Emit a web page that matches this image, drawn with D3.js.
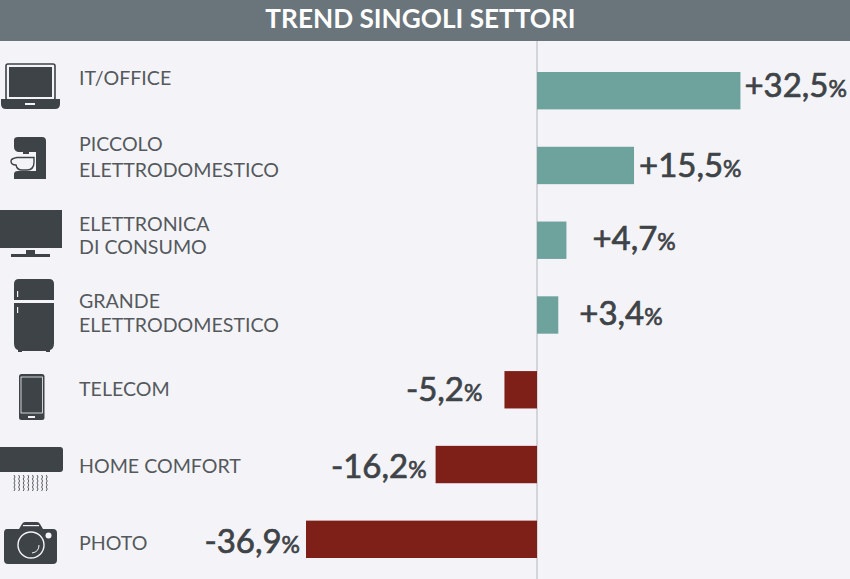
<!DOCTYPE html>
<html><head><meta charset="utf-8">
<script src="https://cdnjs.cloudflare.com/ajax/libs/d3/7.8.5/d3.min.js"></script>
<style>html,body{margin:0;padding:0;background:#f4f4f8;overflow:hidden}svg{display:block}text{font-family:Lato,sans-serif}</style>
</head><body><svg id="c" width="850" height="579"></svg>
<script>
const title = "TREND SINGOLI SETTORI";
const categories = ["IT/OFFICE","PICCOLO ELETTRODOMESTICO","ELETTRONICA DI CONSUMO","GRANDE ELETTRODOMESTICO","TELECOM","HOME COMFORT","PHOTO"];
const labelLines = [["IT/OFFICE"],["PICCOLO","ELETTRODOMESTICO"],["ELETTRONICA","DI CONSUMO"],["GRANDE","ELETTRODOMESTICO"],["TELECOM"],["HOME COMFORT"],["PHOTO"]];
const values = [32.5,15.5,4.7,3.4,-5.2,-16.2,-36.9];
const valueLabels = ["+32,5","+15,5","+4,7","+3,4","-5,2","-16,2","-36,9"];
const iconNames = ["laptop","mixer","tv","fridge","phone","ac","camera"];

const W=850,H=579,dark="#3e4347",txt="#55595d",bg="#f4f4f8";
const svg=d3.select("#c");
svg.append("rect").attr("width",W).attr("height",H).attr("fill",bg);
svg.append("rect").attr("width",W).attr("height",41).attr("fill","#69747b");
svg.append("text").attr("x",420.5).attr("y",28).attr("text-anchor","middle").attr("fill","#fff")
  .attr("font-size",26.2).attr("font-weight",700).text(title);

const x=d3.scaleLinear().domain([-40,40]).range([286.6,787.4]);
const y=d3.scaleBand().domain(categories).range([72,558]).paddingInner(0.5);
svg.append("line").attr("x1",x(0)).attr("x2",x(0)).attr("y1",41).attr("y2",H).attr("stroke","#c9cbd0").attr("stroke-width",1.5);

svg.selectAll("rect.bar").data(values).join("rect").attr("class","bar")
  .attr("x",d=>x(Math.min(0,d))).attr("width",d=>Math.abs(x(d)-x(0)))
  .attr("y",(d,i)=>y(categories[i])).attr("height",y.bandwidth())
  .attr("fill",d=>d>0?"#6ea29d":"#7f2018");

// placement of the value labels relative to their bars, as in the reference
const labelGap=[4,5,26,21,22,9,6];
const labelDy=[6.6,11.8,10,9.8,11.5,13.7,13.9];
const vals=svg.selectAll("text.val").data(values).join("text").attr("class","val")
  .attr("x",(d,i)=>d>0?x(d)+labelGap[i]:x(d)-labelGap[i])
  .attr("y",(d,i)=>y(categories[i])+y.bandwidth()/2+labelDy[i])
  .attr("text-anchor",d=>d>0?"start":"end")
  .attr("fill",dark).attr("stroke",dark).attr("stroke-width",0.7).attr("font-size",33);
vals.append("tspan").text((d,i)=>valueLabels[i]);
vals.append("tspan").attr("font-size",23).text("%");

// baselines of the category text relative to each row's centre
const textDy=[[-5.4],[-14.5,12],[-9.5,14],[-7.5,17],[6.5],[8.5],[10.5]];
categories.forEach((c,i)=>{
  const cy=y(c)+y.bandwidth()/2;
  const t=svg.append("text").attr("fill",txt).attr("font-size",19.6);
  labelLines[i].forEach((l,k)=>t.append("tspan").attr("x",79).attr("y",cy+textDy[i][k]).text(l));
});

const icons={
 laptop(g){g.append("rect").attr("x",6).attr("y",64).attr("width",49).attr("height",36).attr("rx",2).attr("fill","none").attr("stroke",dark).attr("stroke-width",1.6);
  g.append("rect").attr("x",9).attr("y",67).attr("width",43).attr("height",30).attr("fill",dark);
  g.append("path").attr("d","M1 99H60V104Q60 109 55 109H6Q1 109 1 104Z").attr("fill",dark);
  g.append("rect").attr("x",25).attr("y",103).attr("width",10).attr("height",2).attr("fill",bg);},
 mixer(g){g.append("path").attr("d","M14 140Q14 137 18 137H42Q46 137 46 141V179H14V174Q14 171 18 171H36V152H29V154H23V152H18Q14 151 14 147Z").attr("fill",dark);
  g.append("path").attr("d","M17 157.5H34V162Q34 170 27 170H22Q17 170 16 165Q11 165 11 161Q11 158.5 17 157.5Z").attr("fill",bg).attr("stroke",dark).attr("stroke-width",1.4);},
 tv(g){g.append("rect").attr("x",-2).attr("y",210).attr("width",64).attr("height",38).attr("fill",dark);
  g.append("rect").attr("x",26).attr("y",250).attr("width",9).attr("height",5).attr("fill",dark);
  g.append("rect").attr("x",11).attr("y",254).attr("width",39).attr("height",3).attr("fill",dark);},
 fridge(g){g.append("path").attr("d","M14 300V284Q14 279 19 279H49Q54 279 54 284V300Z").attr("fill",dark);
  g.append("path").attr("d","M14 303H54V343Q54 349 50 350V352H46V351H22V352H18V350Q14 349 14 343Z").attr("fill",dark);
  g.append("rect").attr("x",17).attr("y",291).attr("width",1.2).attr("height",6).attr("fill",bg);
  g.append("rect").attr("x",17).attr("y",307).attr("width",1.2).attr("height",6).attr("fill",bg);},
 phone(g){g.append("rect").attr("x",19).attr("y",374).attr("width",25.5).attr("height",46).attr("rx",2.5).attr("fill",dark);
  g.append("rect").attr("x",21).attr("y",377).attr("width",21.5).attr("height",36).attr("fill",dark).attr("stroke",bg).attr("stroke-width",0.8);
  g.append("rect").attr("x",28).attr("y",416).attr("width",7).attr("height",2).attr("fill",bg);},
 ac(g){g.append("path").attr("d","M-3 447H60Q63 447 63 450V469Q63 472 60 472H-3Z").attr("fill",dark);
  for(let k=0;k<8;k++) g.append("path").attr("d",`M${14+k*4.6} 475 l1 2 l-1 2 l1 2 l-1 2 l1 2 l-1 2 l1 2 l-1 2`).attr("fill","none").attr("stroke","#5a5e62").attr("stroke-width",1);},
 camera(g){g.append("path").attr("d","M7 529H19L22 524Q23 522 25 522H37Q39 522 40 524L43 529H53Q57 529 57 533V560Q57 564 53 564H8Q4 564 4 560V533Q4 529 7 529Z").attr("fill",dark);
  g.append("circle").attr("cx",31).attr("cy",545).attr("r",13).attr("fill",dark).attr("stroke",bg).attr("stroke-width",1.4);
  g.append("path").attr("d","M39 545Q39 552 32 553").attr("fill","none").attr("stroke",bg).attr("stroke-width",1);
  g.append("circle").attr("cx",48.5).attr("cy",535.5).attr("r",3).attr("fill",bg);
  g.append("rect").attr("x",23).attr("y",525).attr("width",16).attr("height",1.2).attr("fill",bg);}
};
iconNames.forEach(n=>icons[n](svg.append("g")));
</script></body></html>
